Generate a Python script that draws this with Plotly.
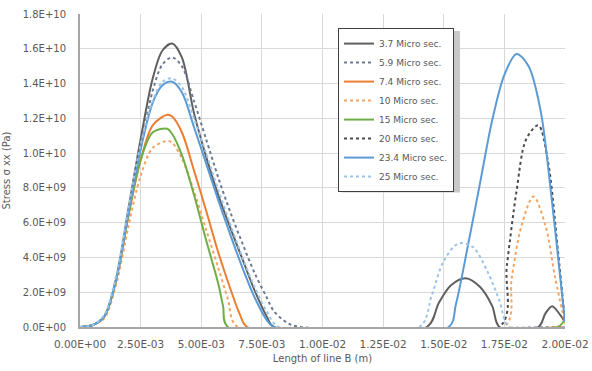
import plotly.graph_objects as go

# ---- data ----
names = ["3.7 Micro sec.", "5.9 Micro sec.", "7.4 Micro sec.", "10 Micro sec.",
         "15 Micro sec.", "20 Micro sec.", "23.4 Micro sec.", "25 Micro sec."]

x_37 = [0, 0.0005, 0.001, 0.0015, 0.002, 0.0025, 0.003, 0.0034, 0.0038, 0.0042, 0.0047, 0.0052,
        0.0057, 0.0062, 0.0067, 0.0072, 0.0077, 0.008, 0.0143, 0.0148, 0.0153, 0.0159, 0.0165,
        0.0170, 0.0173, 0.0189, 0.0192, 0.01947, 0.0198, 0.02]
y_37 = [0, 0.1e9, 0.6e9, 2.8e9, 6.8e9, 10.8e9, 14.3e9, 15.9e9, 16.3e9, 15.5e9, 12.3e9, 9.8e9,
        7.6e9, 5.7e9, 3.9e9, 2.1e9, 0.6e9, 0, 0, 1.4e9, 2.4e9, 2.8e9, 2.3e9,
        1.2e9, 0, 0, 0.8e9, 1.2e9, 0.7e9, 0.3e9]

x_59 = [0, 0.0005, 0.001, 0.0015, 0.002, 0.0025, 0.003, 0.0034, 0.0038, 0.0042, 0.0047, 0.0052,
        0.0057, 0.0062, 0.0067, 0.0072, 0.0077, 0.008, 0.0086, 0.0091, 0.02]
y_59 = [0, 0.1e9, 0.6e9, 2.7e9, 6.4e9, 10.3e9, 13.6e9, 15.1e9, 15.5e9, 15.0e9, 13.0e9, 10.8e9,
        8.6e9, 6.6e9, 4.8e9, 3.1e9, 1.7e9, 0.9e9, 0.2e9, 0, 0]

x_74 = [0, 0.0005, 0.001, 0.0015, 0.002, 0.0025, 0.003, 0.0036, 0.0038, 0.0042, 0.0047, 0.0052,
        0.0057, 0.0062, 0.0066, 0.0069, 0.02]
y_74 = [0, 0.1e9, 0.6e9, 2.8e9, 6.4e9, 9.6e9, 11.6e9, 12.2e9, 12.1e9, 11.2e9, 9.0e9, 6.7e9,
        4.3e9, 2.2e9, 0.7e9, 0, 0]

x_10 = [0, 0.0005, 0.001, 0.0015, 0.002, 0.0025, 0.003, 0.0036, 0.0038, 0.0042, 0.0047, 0.0052,
        0.0057, 0.0061, 0.0065, 0.0175, 0.0178, 0.0182, 0.0187, 0.0192, 0.0196, 0.02]
y_10 = [0, 0.1e9, 0.5e9, 2.5e9, 5.8e9, 8.7e9, 10.3e9, 10.7e9, 10.6e9, 9.7e9, 7.8e9, 5.6e9,
        3.4e9, 1.6e9, 0, 0, 2.8e9, 5.8e9, 7.5e9, 5.8e9, 2.8e9, 0.2e9]

x_15 = [0, 0.0005, 0.001, 0.0015, 0.002, 0.0025, 0.003, 0.0036, 0.0038, 0.0042, 0.0047, 0.0052,
        0.0057, 0.0059, 0.0061, 0.0197, 0.02]
y_15 = [0, 0.1e9, 0.6e9, 2.8e9, 6.5e9, 9.6e9, 11.2e9, 11.4e9, 11.1e9, 9.9e9, 7.6e9, 5.0e9,
        2.5e9, 1.2e9, 0, 0, 0.5e9]

x_20 = [0, 0.0173, 0.0176, 0.018, 0.0184, 0.0189, 0.0193, 0.0197, 0.02]
y_20 = [0, 0, 3.5e9, 7.8e9, 10.8e9, 11.6e9, 9.5e9, 4.5e9, 0.3e9]

x_234 = [0, 0.0005, 0.001, 0.0015, 0.002, 0.0025, 0.003, 0.0034, 0.0038, 0.0042, 0.0047, 0.0052,
         0.0057, 0.0062, 0.0067, 0.0072, 0.0077, 0.008, 0.0152, 0.0155, 0.016, 0.0165, 0.017,
         0.0175, 0.018, 0.0185, 0.019, 0.0194, 0.0197, 0.02]
y_234 = [0, 0.1e9, 0.6e9, 2.8e9, 6.6e9, 10.2e9, 12.9e9, 13.9e9, 14.1e9, 13.5e9, 11.5e9, 9.4e9,
         7.3e9, 5.3e9, 3.4e9, 1.7e9, 0.4e9, 0, 0, 1.3e9, 4.7e9, 8.3e9, 11.9e9,
         14.5e9, 15.7e9, 15.0e9, 12.4e9, 8.0e9, 4.2e9, 0.3e9]

x_25 = [0, 0.0005, 0.001, 0.0015, 0.002, 0.0025, 0.003, 0.0034, 0.0038, 0.0042, 0.0047, 0.0052,
        0.0057, 0.0062, 0.0067, 0.0072, 0.0077, 0.0082, 0.0140, 0.0145, 0.015, 0.0156, 0.0162,
        0.0168, 0.0173, 0.0177, 0.02]
y_25 = [0, 0.1e9, 0.7e9, 3.0e9, 6.9e9, 10.5e9, 13.0e9, 14.1e9, 14.3e9, 13.8e9, 12.0e9, 10.0e9,
        7.9e9, 5.9e9, 4.0e9, 2.3e9, 0.9e9, 0, 0, 1.8e9, 3.8e9, 4.8e9, 4.6e9,
        3.2e9, 1.5e9, 0, 0]

x_ticks = [0, 0.0025, 0.005, 0.0075, 0.01, 0.0125, 0.015, 0.0175, 0.02]
x_labels = ["0.00E+00", "2.50E-03", "5.00E-03", "7.50E-03", "1.00E-02",
            "1.25E-02", "1.50E-02", "1.75E-02", "2.00E-02"]
y_ticks = [0, 2e9, 4e9, 6e9, 8e9, 1e10, 1.2e10, 1.4e10, 1.6e10, 1.8e10]
y_labels = ["0.0E+00", "2.0E+09", "4.0E+09", "6.0E+09", "8.0E+09",
            "1.0E+10", "1.2E+10", "1.4E+10", "1.6E+10", "1.8E+10"]

series = [(x_37, y_37), (x_59, y_59), (x_74, y_74), (x_10, y_10),
          (x_15, y_15), (x_20, y_20), (x_234, y_234), (x_25, y_25)]
colors = ["#5f5f5f", "#6b7a90", "#ED7D31", "#F4A460",
          "#70AD47", "#4a4a4a", "#5B9BD5", "#9DC3E6"]
dashes = ["solid", "dot", "solid", "dot", "solid", "dot", "solid", "dot"]

fig = go.Figure()
for (xs, ys), n, c, d in zip(series, names, colors, dashes):
    fig.add_trace(go.Scatter(x=xs, y=ys, name=n, mode="lines",
                             line=dict(color=c, width=2, dash=d, shape="spline", smoothing=0.9)))

# soft shadow behind the legend box
fig.add_shape(type="rect", xref="paper", yref="paper",
              x0=0.540, x1=0.7835, y0=0.430, y1=0.946,
              fillcolor="#c8c8c8", line=dict(width=0), layer="above")

fig.update_layout(
    width=592, height=371,
    margin=dict(l=80, r=27, t=14, b=44, autoexpand=False),
    paper_bgcolor="white", plot_bgcolor="white",
    font=dict(family="DejaVu Sans, sans-serif", size=10, color="#595959"),
    showlegend=True,
    legend=dict(x=0.532, y=0.955, xanchor="left", yanchor="top",
                bgcolor="white", bordercolor="#404040", borderwidth=1,
                font=dict(size=9, color="#595959"), tracegroupgap=0),
)
fig.update_xaxes(range=[0, 0.02], tickvals=x_ticks, ticktext=x_labels,
                 showgrid=True, gridcolor="#d9d9d9", gridwidth=1,
                 showline=True, linecolor="#a6a6a6", linewidth=2, zeroline=False,
                 ticks="", ticklabelstandoff=6, tickfont=dict(size=10.5),
                 title=dict(text="Length of line B (m)", font=dict(size=10), standoff=6))
fig.update_yaxes(range=[0, 1.8e10], tickvals=y_ticks, ticktext=y_labels,
                 showgrid=True, gridcolor="#d9d9d9", gridwidth=1,
                 showline=True, linecolor="#a6a6a6", linewidth=2, zeroline=False,
                 ticks="", ticklabelstandoff=10, tickfont=dict(size=10),
                 title=dict(text="Stress σ xx (Pa)", font=dict(size=10), standoff=10))

fig.write_html("out.html", config={"displayModeBar": False},
               post_script="document.body.style.margin='0';")
